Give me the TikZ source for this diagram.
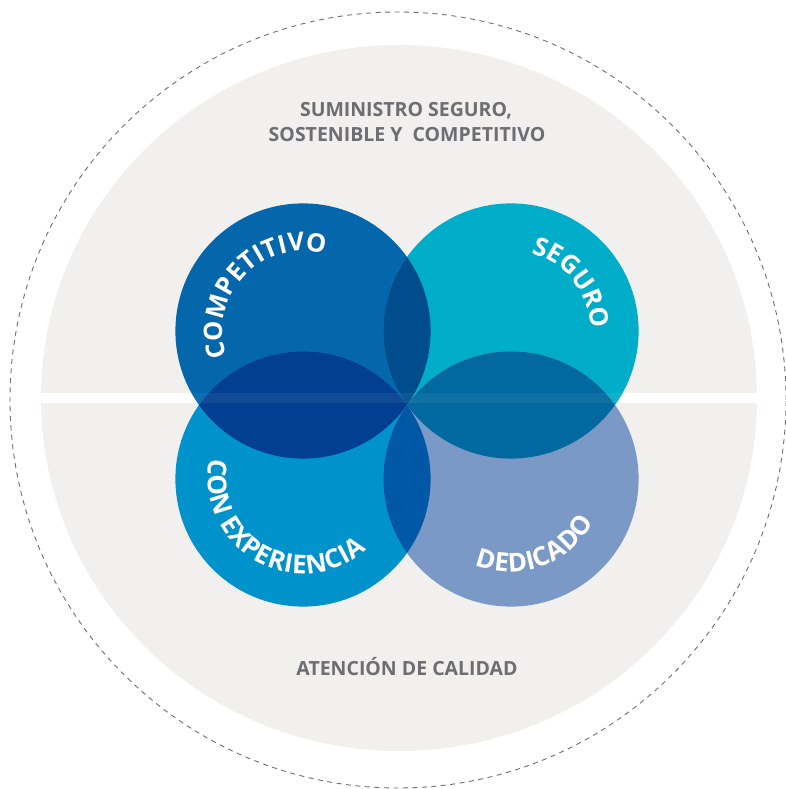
\documentclass[tikz,border=0pt]{standalone}
\usepackage{fontspec}
\setmainfont{Open Sans}
\usetikzlibrary{decorations.text}
\definecolor{cTL}{HTML}{0467AB}
\definecolor{cTR}{HTML}{00ADC8}
\definecolor{cBL}{HTML}{0092CA}
\definecolor{cBR}{HTML}{7A99C6}
\definecolor{cTLTR}{HTML}{004C8D}
\definecolor{cTLBL}{HTML}{033F90}
\definecolor{cTRBR}{HTML}{0269A0}
\definecolor{cBLBR}{HTML}{0058A6}
\definecolor{bggray}{HTML}{F1F0EF}
\definecolor{txtgray}{HTML}{6D6E71}
\definecolor{dashgray}{HTML}{6E6E6E}
\newcommand\arclabfont{\bfseries\fontsize{26}{26}\selectfont}
\newcommand\arclabfontb{\bfseries\fontsize{25.5}{26}\selectfont}
\tikzset{
  graylab/.style={font=\bfseries\fontsize{19.5}{20}\selectfont, text=txtgray, inner sep=0pt},
  arclab/.style={decorate, decoration={text along path, text color=white, text align=fit to path}},
  arclabc/.style={decorate, decoration={text along path, text color=white, text align=center}}
}
\begin{document}
\begin{tikzpicture}[x=1pt,y=1pt]
\useasboundingbox (0,0) rectangle (786,789);
\coordinate (O) at (398,389);
\coordinate (G) at (399,391);
\coordinate (TL) at (303,458);
\coordinate (TR) at (511,458);
\coordinate (BL) at (303,310);
\coordinate (BR) at (511,310);
\def\R{127.6}
% outer dashed circle and background
\draw[dashgray, line width=0.9pt, dash pattern=on 5pt off 4.5pt] (O) circle[radius=388];
\fill[bggray] (G) ellipse[x radius=358, y radius=353];
\fill[white] (30,386) rectangle (770,396);
% four circles
\fill[cTL] (TL) circle[radius=\R];
\fill[cTR] (TR) circle[radius=\R];
\fill[cBL] (BL) circle[radius=\R];
\fill[cBR] (BR) circle[radius=\R];
% overlaps
\begin{scope}\clip (TL) circle[radius=\R]; \fill[cTLTR] (TR) circle[radius=\R]; \end{scope}
\begin{scope}\clip (TL) circle[radius=\R]; \fill[cTLBL] (BL) circle[radius=\R]; \end{scope}
\begin{scope}\clip (TR) circle[radius=\R]; \fill[cTRBR] (BR) circle[radius=\R]; \end{scope}
\begin{scope}\clip (BL) circle[radius=\R]; \fill[cBLBR] (BR) circle[radius=\R]; \end{scope}
% light stripe across circles
\fill[white, opacity=0.06] (170,386) rectangle (645,396);
% curved labels
\path[arclabc, decoration={text={|\arclabfontb|COMPETITIVO}}]
  ([shift={(216.5:80)}]TL) arc[start angle=216.5, end angle=56.5, radius=80];
\path[arclabc, decoration={text={|\arclabfontb|SEGURO}}]
  ([shift={(83.5:80)}]TR) arc[start angle=83.5, end angle=-6.5, radius=80];
\path[arclab, decoration={text={|\arclabfont|CON EXPERIENCIA}}]
  ([shift={(167.7:95)}]BL) arc[start angle=167.7, end angle=312, radius=95];
\path[arclab, decoration={text={|\arclabfont|DEDICADO}}]
  ([shift={(247.2:93)}]BR) arc[start angle=247.2, end angle=332.7, radius=93];
% gray labels
\node[graylab, anchor=base] (t1) at (406,672) {SUMINISTRO SEGURO,};
\node[graylab, anchor=base] (t2) at (407,647) {SOSTENIBLE Y\ \ COMPETITIVO};
\node[graylab, anchor=base] (t3) at (407,113) {ATENCIÓN DE CALIDAD};
\end{tikzpicture}
\end{document}
